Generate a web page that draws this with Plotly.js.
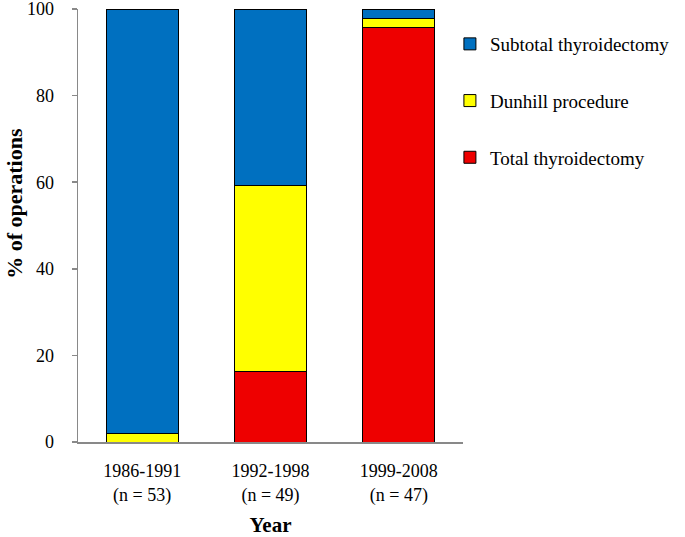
<!DOCTYPE html>
<html>
<head>
<meta charset="utf-8">
<script src="https://cdn.plot.ly/plotly-3.0.1.min.js"></script>
<style>html,body{margin:0;padding:0;background:#fff;}#chart{width:685px;height:537px;}</style>
</head>
<body>
<div id="chart"></div>
<script>
const categories = ["1986-1991<br>(n = 53)", "1992-1998<br>(n = 49)", "1999-2008<br>(n = 47)"];
const totalThyroidectomy = [0, 16.3, 95.7];
const dunhillProcedure = [1.9, 42.9, 2.1];
const subtotalThyroidectomy = [98.1, 40.8, 2.1];
const seriesNames = ["Total thyroidectomy", "Dunhill procedure", "Subtotal thyroidectomy"];
const yTicks = [0, 20, 40, 60, 80, 100];

const font = "Liberation Serif";
const line = {color: "#000000", width: 1};

const traces = [
  {type: "bar", name: seriesNames[0], x: categories, y: totalThyroidectomy,
   marker: {color: "rgb(238,0,0)", line: line}, legendgroup: "c", legendrank: 3},
  {type: "bar", name: seriesNames[1], x: categories, y: dunhillProcedure,
   marker: {color: "rgb(255,255,0)", line: line}, legendgroup: "b", legendrank: 2},
  {type: "bar", name: seriesNames[2], x: categories, y: subtotalThyroidectomy,
   marker: {color: "rgb(0,112,192)", line: line}, legendgroup: "a", legendrank: 1}
];

const layout = {
  width: 685, height: 537,
  margin: {l: 78, r: 222, t: 9, b: 95},
  barmode: "stack",
  bargap: 0.44,
  paper_bgcolor: "#ffffff", plot_bgcolor: "#ffffff",
  font: {family: font, color: "#000000", size: 18},
  xaxis: {
    showline: true, linecolor: "#898989", linewidth: 1.5,
    ticks: "", showgrid: false, zeroline: false,
    tickfont: {family: font, size: 18},
    ticklabelstandoff: 12,
    title: {text: "<b>Year</b>", font: {family: font, size: 21}, standoff: 16}
  },
  yaxis: {
    range: [0, 100], tickvals: yTicks, showline: true, linecolor: "#898989", linewidth: 1.5,
    ticks: "outside", ticklen: 5, tickcolor: "#898989", tickwidth: 1.5,
    showgrid: false, zeroline: false,
    tickfont: {family: font, size: 18},
    ticklabelstandoff: 14, ticklabeloverflow: "allow"
  },
  annotations: [{
    text: "<b>% of operations</b>", textangle: -90,
    xref: "paper", yref: "paper", x: -0.164, y: 0.552,
    xanchor: "center", yanchor: "middle", showarrow: false, borderpad: 0,
    font: {family: font, size: 22, color: "#000000"}
  }],
  legend: {
    x: 0.966, xanchor: "left", y: 0.963, yanchor: "top",
    traceorder: "grouped", tracegroupgap: 29,
    font: {family: font, size: 19, color: "#000000"}, bgcolor: "rgba(0,0,0,0)"
  },
  showlegend: true
};

Plotly.newPlot("chart", traces, layout, {displayModeBar: false, staticPlot: true});
</script>
</body>
</html>
